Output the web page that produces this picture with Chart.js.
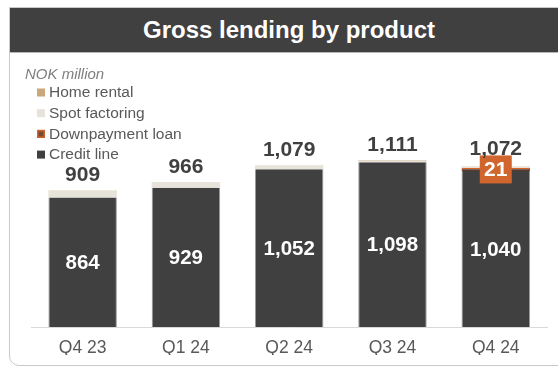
<!DOCTYPE html>
<html>
<head>
<meta charset="utf-8">
<script src="https://cdn.jsdelivr.net/npm/chart.js@4/dist/chart.umd.min.js"></script>
<style>
  html, body { margin: 0; padding: 0; background: #fff; }
  #wrap { position: relative; width: 558px; height: 366px; overflow: hidden; font-family: Arial, "Liberation Sans", sans-serif; }
  #frame { position: absolute; left: 9px; top: 7px; width: 600px; height: 357px; border: 1px solid #c9c9c9; border-radius: 0 0 0 10px; }
  #title { position: absolute; left: 10px; top: 8px; width: 560px; height: 44px; background: #404040; border-bottom: 1px solid #b5b5b5;
           color: #fff; font-weight: bold; font-size: 24px; line-height: 44px; }
  #title span { position: absolute; left: 0; width: 558px; text-align: center; }
  #chart { position: absolute; left: 0; top: 0; }
</style>
</head>
<body>
<div id="wrap">
  <div id="frame"></div>
  <div id="title"><span>Gross lending by product</span></div>
  <canvas id="chart" width="558" height="366"></canvas>
</div>
<script>
const categories      = ['Q4 23', 'Q1 24', 'Q2 24', 'Q3 24', 'Q4 24'];
const creditLine      = [864, 929, 1052, 1098, 1040];
const downpaymentLoan = [0, 0, 0, 0, 21];
const spotFactoring   = [43, 36, 25, 11, 9];
const homeRental      = [2, 1, 2, 2, 2];
const unitLabel       = 'NOK million';

const fmt = v => v.toLocaleString('en-US');
const totals = categories.map((_, i) => creditLine[i] + downpaymentLoan[i] + spotFactoring[i] + homeRental[i]);

const FONT = 'Arial, "Liberation Sans", sans-serif';

// value labels, the orange callout for downpayment loans, and the legend block
const overlay = {
  id: 'overlay',
  afterDatasetsDraw(chart) {
    const { ctx, scales: { y } } = chart;
    const credit = chart.getDatasetMeta(0).data;
    const down   = chart.getDatasetMeta(1).data;
    ctx.save();
    ctx.textAlign = 'center';

    categories.forEach((_, i) => {
      const bar = credit[i];
      // credit line value, centred in its segment
      ctx.fillStyle = '#fff';
      ctx.font = `bold 20.5px ${FONT}`;
      ctx.textBaseline = 'middle';
      ctx.fillText(fmt(creditLine[i]), bar.x, (bar.y + bar.base) / 2 + 1);

      let totalBase = y.getPixelForValue(totals[i]) - 9.5;

      if (downpaymentLoan[i] > 0) {
        const d = down[i];
        const cy = (d.y + d.base) / 2;
        const bw = 32, bh = 28;
        ctx.fillStyle = '#d0652e';
        ctx.fillRect(d.x - bw / 2, cy - bh / 2, bw, bh);
        ctx.fillStyle = '#fff';
        ctx.font = `bold 21px ${FONT}`;
        ctx.fillText(fmt(downpaymentLoan[i]), d.x, cy + 1);
        totalBase = Math.min(totalBase, cy - bh / 2);
      }

      ctx.fillStyle = '#404040';
      ctx.font = `bold 21px ${FONT}`;
      ctx.textBaseline = 'alphabetic';
      ctx.fillText(fmt(totals[i]), bar.x, totalBase);
    });

    // unit note + legend, listed top of stack first
    ctx.textAlign = 'left';
    ctx.textBaseline = 'middle';
    ctx.fillStyle = '#7f7f7f';
    ctx.font = `italic 15px ${FONT}`;
    ctx.fillText(unitLabel, 25, 75);

    const order = [3, 2, 1, 0];
    order.forEach((di, row) => {
      const ds = chart.data.datasets[di];
      const cy = 92.5 + row * 20.7;
      ctx.fillStyle = ds.legendFill || ds.backgroundColor;
      ctx.fillRect(37, cy - 4, 8, 8);
      if (ds.legendStroke) {
        ctx.strokeStyle = ds.legendStroke;
        ctx.lineWidth = 1.5;
        ctx.strokeRect(37.75, cy - 3.25, 6.5, 6.5);
      }
      ctx.fillStyle = '#595959';
      ctx.font = `15.5px ${FONT}`;
      ctx.fillText(ds.label, 49, cy + 0.5);
    });
    ctx.restore();
  }
};

new Chart(document.getElementById('chart'), {
  type: 'bar',
  data: {
    labels: categories,
    datasets: [
      { label: 'Credit line', data: creditLine, backgroundColor: '#404040',
        borderColor: '#9a9a9a', borderWidth: { left: 1, right: 1, top: 0, bottom: 0 } },
      { label: 'Downpayment loan', data: downpaymentLoan, backgroundColor: '#5a3a2c',
        borderColor: '#d0652e', borderWidth: { top: 1.5, left: 0, right: 0, bottom: 0 },
        legendFill: '#7a4a34', legendStroke: '#d0652e' },
      { label: 'Spot factoring', data: spotFactoring, backgroundColor: '#e7e3db' },
      { label: 'Home rental', data: homeRental, backgroundColor: '#c9a67c' }
    ]
  },
  options: {
    responsive: false,
    animation: false,
    devicePixelRatio: 1,
    layout: { padding: { left: 31, right: 10.6, top: 132, bottom: 11 } },
    datasets: { bar: { categoryPercentage: 1, barPercentage: 0.663 } },
    plugins: { legend: { display: false }, tooltip: { enabled: false } },
    scales: {
      x: {
        stacked: true,
        grid: { display: false, drawTicks: false },
        border: { color: '#d9d9d9', width: 1 },
        ticks: { color: '#595959', font: { family: FONT, size: 17.5 }, padding: 11 },
        afterFit: s => { s.height = 28; }
      },
      y: { stacked: true, display: false, min: 0, max: 1300 }
    }
  },
  plugins: [overlay]
});
</script>
</body>
</html>
